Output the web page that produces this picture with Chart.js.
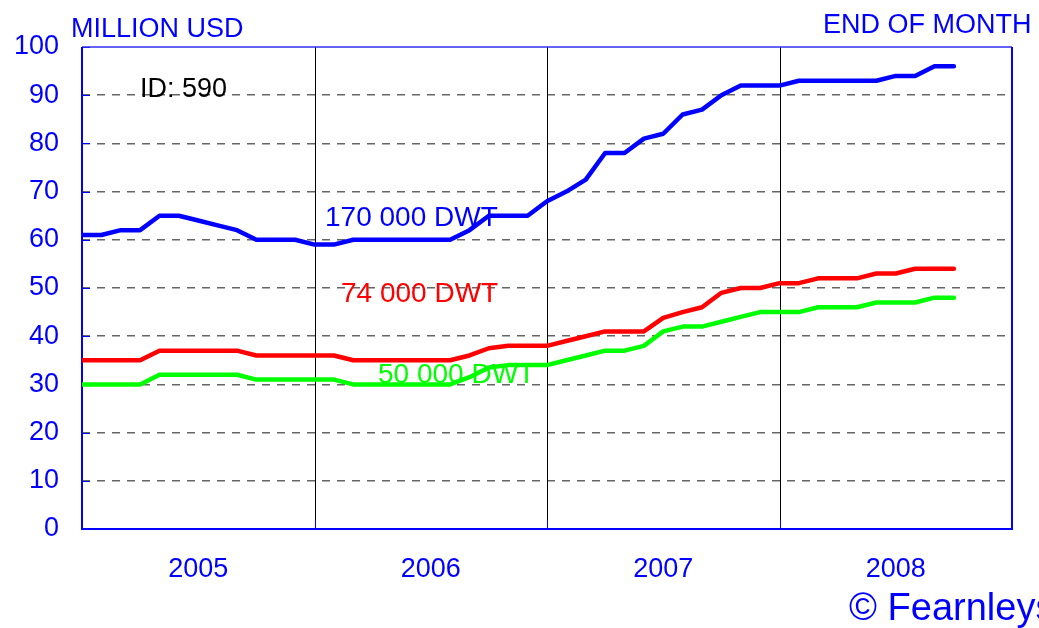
<!DOCTYPE html>
<html>
<head>
<meta charset="utf-8">
<script src="https://cdn.jsdelivr.net/npm/chart.js@4.4.1/dist/chart.umd.min.js"></script>
<style>
  html, body { margin: 0; padding: 0; background: #fff; }
  #wrap { width: 1039px; height: 628px; position: relative; }
</style>
</head>
<body>
<div id="wrap"><canvas id="c" width="1039" height="628"></canvas></div>
<script>
// Monthly index: 0 = start of 2005 ... 48 = end of 2008
const years = ["2005", "2006", "2007", "2008"];
const yTicks = [0, 10, 20, 30, 40, 50, 60, 70, 80, 90, 100];

const dwt170 = [61, 61, 62, 62, 65, 65, 64, 63, 62, 60, 60, 60,
                59, 59, 60, 60, 60, 60, 60, 60, 62, 65, 65, 65,
                68, 70, 72.5, 78, 78, 81, 82, 86, 87, 90, 92, 92,
                92, 93, 93, 93, 93, 93, 94, 94, 96, 96];
const dwt74  = [35, 35, 35, 35, 37, 37, 37, 37, 37, 36, 36, 36,
                36, 36, 35, 35, 35, 35, 35, 35, 36, 37.5, 38, 38,
                38, 39, 40, 41, 41, 41, 43.8, 45, 46, 49, 50, 50,
                51, 51, 52, 52, 52, 53, 53, 54, 54, 54];
const dwt50  = [30, 30, 30, 30, 32, 32, 32, 32, 32, 31, 31, 31,
                31, 31, 30, 30, 30, 30, 30, 30, 31.5, 33.5, 34, 34,
                34, 35, 36, 37, 37, 38, 41, 42, 42, 43, 44, 45,
                45, 45, 46, 46, 46, 47, 47, 47, 48, 48];

const toXY = arr => arr.map((v, i) => ({ x: i, y: v }));
const BLUE = '#0000FF';
const FONT = "'Liberation Sans', Arial, sans-serif";

const decor = {
  id: 'decor',
  beforeDatasetsDraw(chart) {
    const { ctx, chartArea: a, scales } = chart;
    ctx.save();
    // year dividers
    ctx.lineWidth = 1;
    [12, 24, 36].forEach(m => {
      const x = Math.round(scales.x.getPixelForValue(m)) + 0.5;
      ctx.strokeStyle = '#000';
      ctx.beginPath(); ctx.moveTo(x, a.top); ctx.lineTo(x, a.bottom); ctx.stroke();
      ctx.strokeStyle = BLUE;
      ctx.beginPath(); ctx.moveTo(x, a.bottom); ctx.lineTo(x, a.bottom - 9); ctx.stroke();
    });
    // inner y ticks
    ctx.strokeStyle = BLUE;
    yTicks.forEach(v => {
      const y = Math.round(scales.y.getPixelForValue(v)) + 0.5;
      ctx.beginPath(); ctx.moveTo(a.left, y); ctx.lineTo(a.left + 8, y); ctx.stroke();
    });
    // frame
    ctx.lineWidth = 1.5;
    ctx.strokeStyle = '#3030F0';
    ctx.beginPath(); ctx.moveTo(a.left, a.top); ctx.lineTo(a.right, a.top); ctx.stroke();
    ctx.strokeStyle = BLUE;
    ctx.lineWidth = 2;
    ctx.beginPath();
    ctx.moveTo(a.right, a.top); ctx.lineTo(a.right, a.bottom);
    ctx.lineTo(a.left, a.bottom); ctx.lineTo(a.left, a.top);
    ctx.stroke();
    ctx.restore();
  },
  afterDraw(chart) {
    const { ctx } = chart;
    ctx.save();
    ctx.textBaseline = 'alphabetic';
    ctx.textAlign = 'left';
    ctx.font = `27px ${FONT}`;
    ctx.fillStyle = BLUE;
    ctx.fillText('MILLION USD', 71, 37);
    ctx.fillText('END OF MONTH', 823, 33);
    ctx.fillStyle = '#000';
    ctx.fillText('ID: 590', 140, 97);
    ctx.font = `28px ${FONT}`;
    ctx.fillStyle = BLUE;
    ctx.fillText('170 000 DWT', 325, 226);
    ctx.fillStyle = '#FF0000';
    ctx.fillText('74 000 DWT', 341, 302);
    ctx.fillStyle = '#00FF00';
    ctx.fillText('50 000 DWT', 378, 383);
    ctx.fillStyle = BLUE;
    ctx.font = `38px ${FONT}`;
    ctx.fillText('\u00A9 Fearnleys', 849, 620);
    ctx.restore();
  }
};

const lineDs = (label, data, color) => ({
  label, data: toXY(data), borderColor: color, backgroundColor: color,
  borderWidth: 4.5, pointRadius: 0, tension: 0, fill: false,
  borderJoinStyle: 'round', borderCapStyle: 'round'
});

new Chart(document.getElementById('c'), {
  type: 'line',
  data: {
    datasets: [
      lineDs('170 000 DWT', dwt170, '#0000FF'),
      lineDs('74 000 DWT', dwt74, '#FF0000'),
      lineDs('50 000 DWT', dwt50, '#00FF00')
    ]
  },
  options: {
    responsive: false,
    animation: false,
    layout: { padding: { left: 0, right: 27, top: 47, bottom: 0 } },
    plugins: { legend: { display: false }, tooltip: { enabled: false } },
    scales: {
      x: {
        type: 'linear', min: 0, max: 48,
        afterBuildTicks: s => { s.ticks = [6, 18, 30, 42].map(v => ({ value: v })); },
        afterFit: s => { s.height = 99; },
        ticks: {
          autoSkip: false, maxRotation: 0, padding: 24,
          color: BLUE, font: { family: FONT, size: 27 },
          callback: v => years[Math.floor(v / 12)]
        },
        grid: { display: false, drawTicks: false },
        border: { display: false }
      },
      y: {
        min: 0, max: 100,
        afterBuildTicks: s => { s.ticks = yTicks.map(v => ({ value: v })); },
        afterFit: s => { s.width = 82; },
        ticks: {
          padding: 23, color: BLUE, font: { family: FONT, size: 27 }
        },
        grid: {
          drawTicks: false,
          color: c => (c.tick.value === 0 || c.tick.value === 100) ? 'rgba(0,0,0,0)' : '#666',
          lineWidth: 1.5
        },
        border: { display: false, dash: [8, 7] }
      }
    }
  },
  plugins: [decor]
});
</script>
</body>
</html>
